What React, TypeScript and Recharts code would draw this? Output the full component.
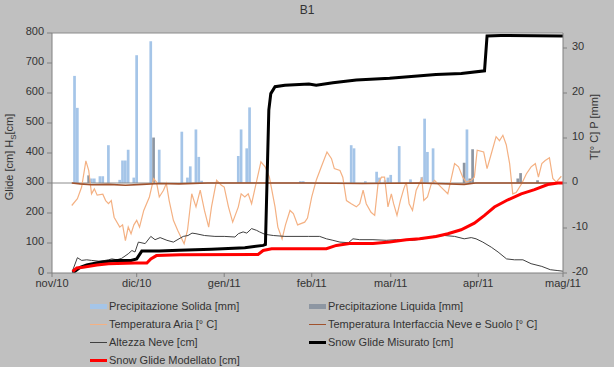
import {
  ComposedChart,
  Bar,
  Line,
  XAxis,
  YAxis,
  CartesianGrid,
  ReferenceLine,
} from "recharts";

// x values are days since 1 Nov 2010
const monthTicks = [0, 30, 61, 92, 120, 151, 181];
const monthLabels = ["nov/10", "dic/10", "gen/11", "feb/11", "mar/11", "apr/11", "mag/11"];
const leftTicks = [0, 100, 200, 300, 400, 500, 600, 700, 800];
const rightTicks = [-20, -10, 0, 10, 20, 30];

// [day, mm]
const solidPrecip: [number, number][] = [
  [8, 23.8], [9, 16.7], [14, 1.0], [15, 1.0], [17, 1.5], [18, 1.5], [20, 8.4],
  [24, 0.7], [25, 5.0], [26, 5.0], [27, 7.4], [29, 1.2], [30, 28.4], [35, 31.5],
  [38, 7.4], [46, 11.4], [48, 1.2], [49, 3.7], [51, 11.9], [52, 5.8], [53, 0.5],
  [66, 6.0], [67, 11.9], [69, 7.7], [70, 16.8], [88, 0.4], [89, 0.4],
  [106, 8.4], [107, 7.7], [111, 0.4], [115, 2.5], [116, 1.2], [118, 0.6],
  [119, 1.2], [120, 1.8], [123, 8.2], [127, 0.8], [131, 1.3], [132, 14.3],
  [133, 6.9], [135, 7.7], [147, 11.9],
];

const liquidPrecip: [number, number][] = [
  [13, 1.7], [36, 10.1], [146, 4.5], [148, 1.0], [149, 7.5], [165, 1.0], [166, 2.2], [172, 0.6],
];

// [day, °C]
const airTemp: [number, number][] = [
  [7, -5.0], [9, -3.5], [10.5, -0.9], [12, 4.9], [13, 2.8], [14, -2.4], [15, -1.3],
  [16, -2.7], [18, -2.5], [19, -3.9], [20, -4.6], [21, -3.9], [22, -7.6], [24, -9.8],
  [25, -9.3], [26, -12.8], [27, -9.8], [28, -11.3], [29, -9.3], [30, -8.3], [31, -9.8],
  [32.5, -6.1], [34.5, -3.1], [36, 1.0], [37, 0.2], [38, -3.1], [39.5, -1.6],
  [40.5, -0.1], [41.5, -3.9], [43, -8.3], [44.5, -10.5], [46.8, -13.5], [48, -10.5],
  [49.5, -2.4], [51, -5.3], [52.5, -1.6], [54, -6.1], [55.5, -9.8], [56.5, -5.3],
  [58.3, 0.6], [60, -0.5], [61, -0.9], [62.5, -5.3], [64, -8.7], [66, -5.3],
  [67, -2.4], [68.3, -3.1], [69.5, -2.4], [70.7, -4.6], [72, -0.9], [74, 4.7],
  [75.5, 3.6], [77, 1.3], [79, -5.3], [80, -9.8], [81.5, -12.4], [82.7, -9.3],
  [84.3, -6.1], [85.5, -6.8], [87, -9.3], [89.5, -8.7], [90.5, -7.8], [92, -3.1],
  [93.6, 0.6], [95.4, 3.6], [97.4, 6.9], [99, 5.4], [100, 3.2], [102, 2.8], [103, 1.3],
  [104.3, -3.9], [106, -4.6], [107.8, -5.3], [109, -4.6], [110.2, -1.6], [111.3, -4.6],
  [113, -6.5], [114.3, -7.2], [115.5, -0.1], [116.7, 1.3], [117.8, 1.3], [119, -5.3],
  [120.2, -2.4], [121, -4.6], [122.2, -7.2], [123.4, -3.9], [124.6, -1.3], [125.5, 0.2],
  [126.5, -4.6], [127.7, -6.1], [129, -1.6], [131, 1.0], [131.7, -3.9], [133, -3.1],
  [134.4, -0.1], [135.5, 0.6], [137.8, -0.9], [140.2, -2.4], [142.6, 4.3], [144, 3.6],
  [145.5, 1.3], [146.7, 0.2], [148.5, 0.6], [149.6, 1.3], [150.6, 7.3], [152.9, 6.9],
  [154.1, 3.2], [155.6, 6.5], [157.3, 10.3], [158.5, 9.4], [159.7, 10.6], [160.9, 8.5],
  [162.1, 4.3], [163.2, -2.4], [164.4, -2.1], [166.4, -0.1], [168, 2.0], [169.7, 3.6],
  [171.2, 4.3], [172.3, 1.3], [173.5, 4.3], [174.7, 5.0], [176.2, 5.6], [177.4, 1.0],
  [178.6, 0.2], [180.4, 1.5],
];

const interfaceTemp: [number, number][] = [
  [7, 0], [10, -0.2], [14, -0.4], [20, -0.3], [26, -0.5], [32, -0.3], [38, -0.1],
  [45, -0.2], [55, 0], [70, 0], [90, 0], [110, -0.1], [130, 0], [146, -0.3], [150, 0], [181, 0],
];

// [day, cm]
const snowHeight: [number, number][] = [
  [7.3, 8], [9, 51], [10.5, 42], [12.3, 44], [14, 42], [17, 39], [20, 44], [21.2, 47],
  [23, 44], [24.7, 49], [27, 64], [28.3, 75], [29.4, 70], [30.6, 103], [33, 98],
  [35, 122], [36.5, 111], [38.3, 118], [40.7, 109], [43, 103], [45, 114], [46.5, 122],
  [48.2, 125], [49.6, 133], [51, 131], [54, 125], [57.7, 122], [61, 122], [64.8, 120],
  [66, 131], [67.7, 137], [69, 133], [70.7, 148], [72.5, 142], [73.5, 137], [75.4, 129],
  [78.4, 125], [82.5, 122], [90.8, 122], [94.8, 122], [97.2, 114], [99.5, 109],
  [102, 103], [105, 101], [106.6, 114], [109, 111], [113.7, 111], [118.4, 109],
  [122, 111], [128, 109], [131.4, 114], [135.5, 123], [139, 125], [142.6, 122],
  [146, 114], [148.5, 118], [150.2, 114], [152.6, 103], [155.6, 86], [158, 70],
  [161, 47], [163.8, 44], [166.8, 44], [169.7, 31], [173.5, 22], [176.5, 11],
  [179.2, 8], [181, 6],
];

const glideMeasured: [number, number][] = [
  [7.3, 0], [10, 19], [12.3, 27], [17, 36], [23, 42], [28, 42], [30, 47], [31.8, 73],
  [38, 73], [45, 76], [56.5, 79], [68.3, 84], [74.8, 92], [75.6, 95], [76.8, 543],
  [77.5, 598], [79, 621], [82.5, 626], [91, 630], [93.6, 626], [99.5, 634],
  [107.8, 643], [119.6, 649], [136, 662], [145, 665], [153.2, 674], [154.1, 790],
  [159, 792], [181, 790],
];

const glideModelled: [number, number][] = [
  [7.3, 5], [8.8, 17], [11, 19], [15.9, 27], [20, 31], [29.4, 33], [33.6, 33],
  [35, 47], [37, 58], [45.4, 61], [73, 62], [74.8, 75], [77.8, 81], [97.2, 81],
  [100.7, 92], [105.4, 98], [113.7, 98], [119.6, 103], [125.5, 111], [130.2, 114],
  [136, 122], [140.2, 131], [144.9, 144], [149.6, 166], [153.2, 192], [156.7, 220],
  [161.5, 244], [166.2, 264], [170.9, 278], [175.6, 295], [179.2, 300], [181, 300],
];

const toPoints = (pts: [number, number][]) => pts.map(([day, v]) => ({ day, v }));

const precipDays = Array.from(
  new Set([...solidPrecip, ...liquidPrecip].map((p) => p[0]))
).sort((a, b) => a - b);
const precipData = precipDays.map((day) => ({
  day,
  solid: solidPrecip.find((p) => p[0] === day)?.[1],
  liquid: liquidPrecip.find((p) => p[0] === day)?.[1],
}));

const FONT = "'Liberation Sans', Arial, sans-serif";
const TEXT = "#333";

const legendItems = [
  { label: "Precipitazione Solida [mm]", color: "#a5c5e8", kind: "bar" },
  { label: "Precipitazione Liquida [mm]", color: "#8d96a2", kind: "bar" },
  { label: "Temperatura Aria [° C]", color: "#f4b183", kind: "thin" },
  { label: "Temperatura Interfaccia Neve e Suolo [° C]", color: "#a0522d", kind: "thin" },
  { label: "Altezza Neve [cm]", color: "#404040", kind: "thin" },
  { label: "Snow Glide Misurato [cm]", color: "#000", kind: "thick" },
  { label: "Snow Glide Modellato [cm]", color: "#ff0000", kind: "thick" },
];

// y tick labels sit a little above their tick, as in the original
function YTick({ x, y, payload, textAnchor }: any) {
  return (
    <text
      x={x}
      y={y}
      dy={2.3}
      textAnchor={textAnchor}
      fontSize={11}
      fill={TEXT}
      fontFamily={FONT}
    >
      {payload.value}
    </text>
  );
}

function LeftLabel({ viewBox }: any) {
  const cx = viewBox.x + 1;
  const cy = viewBox.y + viewBox.height / 2 + 4;
  return (
    <text
      x={cx}
      y={cy}
      transform={`rotate(-90 ${cx} ${cy})`}
      textAnchor="middle"
      fontSize={11}
      fill={TEXT}
      fontFamily={FONT}
    >
      Glide [cm] H
      <tspan dy={3} fontSize={8}>S</tspan>
      <tspan dy={-3}>[cm]</tspan>
    </text>
  );
}

function RightLabel({ viewBox }: any) {
  const cx = viewBox.x + 35;
  const cy = viewBox.y + viewBox.height / 2 - 26;
  return (
    <text
      x={cx}
      y={cy}
      transform={`rotate(-90 ${cx} ${cy})`}
      textAnchor="middle"
      fontSize={11}
      fill={TEXT}
      fontFamily={FONT}
    >
      T[° C] P [mm]
    </text>
  );
}

export default function App() {
  const tick = { fontSize: 11, fill: TEXT, fontFamily: FONT };
  return (
    <div
      style={{
        position: "absolute",
        left: 0,
        top: 0,
        width: 614,
        height: 367,
        background: "#c0c0c0",
        fontFamily: FONT,
        overflow: "hidden",
      }}
    >
      <div
        style={{
          position: "absolute",
          top: 3,
          width: 614,
          textAlign: "center",
          fontSize: 12,
          color: TEXT,
        }}
      >
        B1
      </div>

      <ComposedChart
        width={614}
        height={367}
        data={precipData}
        margin={{ top: 33, right: 11, bottom: 74, left: 12 }}
      >
        <CartesianGrid
          yAxisId="left"
          fill="#fff"
          horizontal={false}
          vertical={false}
        />
        <XAxis
          dataKey="day"
          type="number"
          domain={[0, 181]}
          ticks={monthTicks}
          tickFormatter={(v: number) => monthLabels[monthTicks.indexOf(v)] ?? ""}
          tick={tick}
          tickSize={4}
          tickMargin={2}
          height={20}
          axisLine={{ stroke: "#808080" }}
          tickLine={{ stroke: "#808080" }}
          allowDataOverflow
        />
        {/* separate hidden axis for the lines, so the bar width is not squeezed */}
        <XAxis
          xAxisId="lines"
          dataKey="day"
          type="number"
          domain={[0, 181]}
          hide
          allowDataOverflow
        />
        <YAxis
          yAxisId="left"
          domain={[0, 800]}
          ticks={leftTicks}
          tick={<YTick />}
          width={40}
          tickSize={5}
          tickMargin={3}
          axisLine={{ stroke: "#808080" }}
          tickLine={{ stroke: "#808080" }}
          label={{ content: LeftLabel }}
          allowDataOverflow
        />
        <YAxis
          yAxisId="right"
          orientation="right"
          domain={[-20, 100 / 3]}
          ticks={rightTicks}
          tick={<YTick />}
          width={40}
          tickSize={4}
          tickMargin={5}
          axisLine={{ stroke: "#808080" }}
          tickLine={{ stroke: "#808080" }}
          label={{ content: RightLabel }}
          allowDataOverflow
        />
        <ReferenceLine yAxisId="left" y={800} stroke="#8c8c8c" />
        <ReferenceLine yAxisId="right" y={0} stroke="#8c8c8c" />

        <Bar
          yAxisId="right"
          dataKey="solid"
          stackId="p"
          fill="#a5c5e8"
          barSize={2.7}
          isAnimationActive={false}
        />
        <Bar
          yAxisId="right"
          dataKey="liquid"
          stackId="p"
          fill="#8d96a2"
          barSize={2.7}
          isAnimationActive={false}
        />

        <Line
          xAxisId="lines"
          yAxisId="right"
          data={toPoints(airTemp)}
          dataKey="v"
          type="linear"
          stroke="#f4b183"
          strokeWidth={1.2}
          dot={false}
          isAnimationActive={false}
        />
        <Line
          xAxisId="lines"
          yAxisId="right"
          data={toPoints(interfaceTemp)}
          dataKey="v"
          type="linear"
          stroke="#a0522d"
          strokeWidth={1.6}
          dot={false}
          isAnimationActive={false}
        />
        <Line
          xAxisId="lines"
          yAxisId="left"
          data={toPoints(snowHeight)}
          dataKey="v"
          type="linear"
          stroke="#404040"
          strokeWidth={1}
          dot={false}
          isAnimationActive={false}
        />
        <Line
          xAxisId="lines"
          yAxisId="left"
          data={toPoints(glideMeasured)}
          dataKey="v"
          type="linear"
          stroke="#000"
          strokeWidth={3}
          dot={false}
          isAnimationActive={false}
        />
        <Line
          xAxisId="lines"
          yAxisId="left"
          data={toPoints(glideModelled)}
          dataKey="v"
          type="linear"
          stroke="#ff0000"
          strokeWidth={3}
          dot={false}
          isAnimationActive={false}
        />
      </ComposedChart>

      {legendItems.map((item, i) => {
        const col = i % 2;
        const row = Math.floor(i / 2);
        const left = col === 0 ? 90 : 309;
        const top = 299 + row * 18;
        return (
          <div
            key={item.label}
            style={{
              position: "absolute",
              left,
              top,
              height: 14,
              display: "flex",
              alignItems: "center",
              fontSize: 11,
              color: TEXT,
              whiteSpace: "nowrap",
            }}
          >
            <span
              style={{
                display: "inline-block",
                width: 17,
                height: item.kind === "bar" ? 5 : item.kind === "thick" ? 3 : 1,
                background: item.color,
                marginRight: 2,
              }}
            />
            {item.label}
          </div>
        );
      })}
    </div>
  );
}
